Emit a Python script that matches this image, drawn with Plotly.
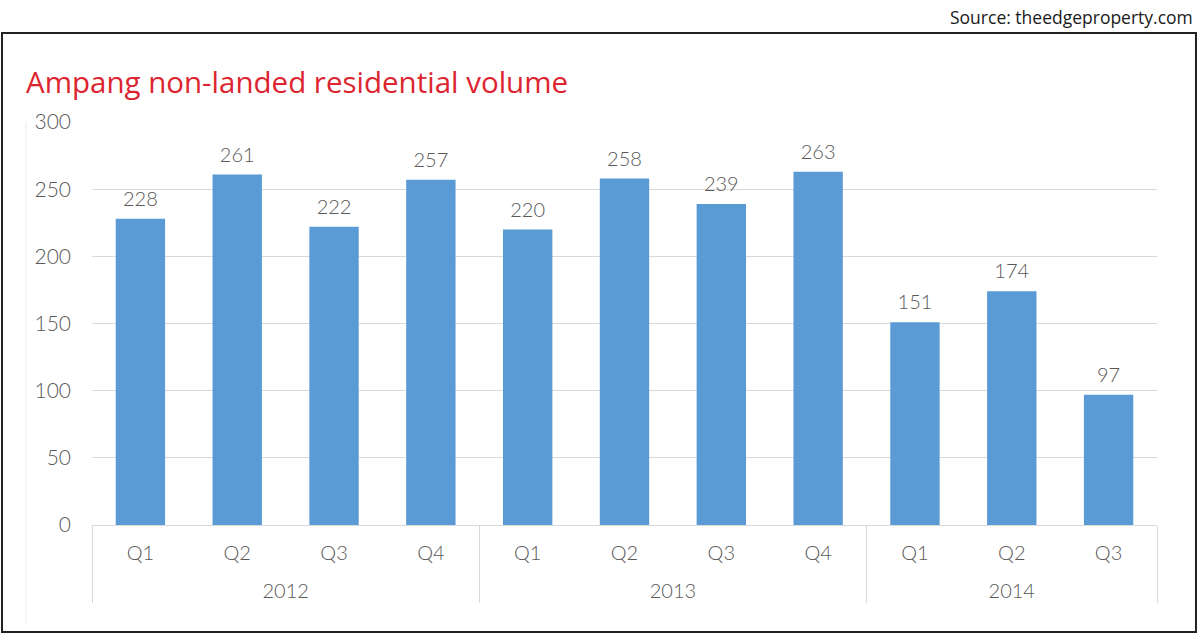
import plotly.graph_objects as go

years = ["2012", "2012", "2012", "2012", "2013", "2013", "2013", "2013", "2014", "2014", "2014"]
quarters = ["Q1", "Q2", "Q3", "Q4", "Q1", "Q2", "Q3", "Q4", "Q1", "Q2", "Q3"]
volume = [228, 261, 222, 257, 220, 258, 239, 263, 151, 174, 97]
y_ticks = [0, 50, 100, 150, 200, 250, 300]

TXT = "#595959"
FONT = "Lato"

# quarter labels with a small spacer line so the year row sits lower
q_labels = [q + "<br><span style='font-size:1px'> </span>" for q in quarters]
x_cats = [years, q_labels]

fig = go.Figure()
fig.add_trace(go.Bar(
    x=x_cats,
    y=volume,
    marker=dict(color="#5b9bd5", line=dict(width=0)),
    hoverinfo="y",
))
fig.add_trace(go.Scatter(
    x=x_cats,
    y=volume,
    mode="markers+text",
    text=[str(v) for v in volume],
    textposition="top center",
    marker=dict(size=11, color="rgba(0,0,0,0)"),
    textfont=dict(family=FONT, size=20, color=TXT, weight=300),
    cliponaxis=False,
    hoverinfo="skip",
))

fig.update_layout(
    width=1200, height=635,
    margin=dict(l=92, r=43, t=122, b=110),
    paper_bgcolor="white", plot_bgcolor="white",
    showlegend=False,
    bargap=0.49,
    xaxis=dict(
        type="multicategory",
        range=[-0.5, len(volume) - 0.5],
        showgrid=False,
        showline=True, linecolor="#d9d9d9", linewidth=1,
        showdividers=True, dividercolor="#d9d9d9", dividerwidth=1,
        tickfont=dict(family=FONT, size=20, color=TXT, weight=300),
        ticks="",
        ticklabelstandoff=10,
    ),
    yaxis=dict(
        range=[0, 300],
        tickvals=y_ticks,
        showgrid=True, gridcolor="#d9d9d9", gridwidth=1,
        zeroline=False,
        tickfont=dict(family=FONT, size=21, color=TXT, weight=300),
        ticklabelstandoff=20,
    ),
    annotations=[
        dict(text="Ampang non-landed residential volume", xref="paper", yref="paper",
             x=-0.0638, y=1.0, xanchor="left", yanchor="middle",
             yshift=41, showarrow=False,
             font=dict(family="Open Sans", size=29.5, color="#dc2530")),
        dict(text="Source: theedgeproperty.com", xref="paper", yref="paper",
             x=1.0357, y=1.0, xanchor="right", yanchor="middle",
             yshift=105, showarrow=False,
             font=dict(family="Open Sans", size=17.5, color="#1a1a1a")),
    ],
    shapes=[
        dict(type="rect", xref="paper", yref="paper",
             x0=-0.0845, x1=1.0366, y0=-0.2655, y1=1.2208,
             line=dict(color="#222222", width=2), fillcolor="rgba(0,0,0,0)"),
        dict(type="line", xref="paper", yref="paper",
             x0=-0.0620, x1=-0.0620, y0=-0.243, y1=1.0,
             line=dict(color="#ececec", width=1)),
    ],
)

fig.write_html("out.html", config={"displayModeBar": False},
               post_script="document.body.style.margin='0';document.body.style.padding='0';")
